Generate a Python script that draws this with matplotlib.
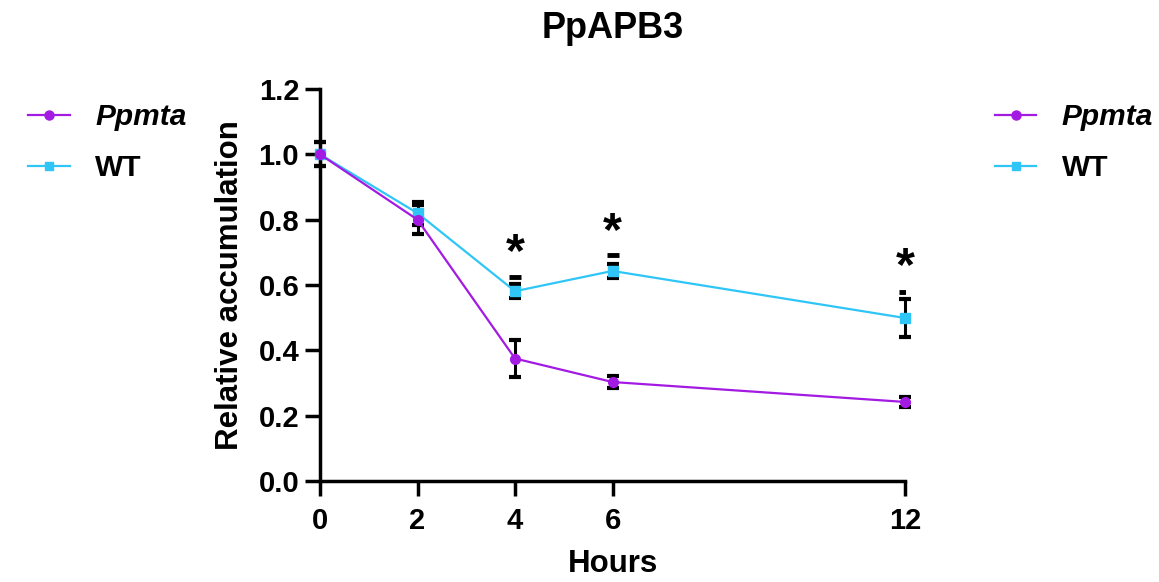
import numpy as np
import matplotlib
matplotlib.use('Agg')
import matplotlib.pyplot as plt
from matplotlib.lines import Line2D

hours = [0, 2, 4, 6, 12]

ppmta_mean = [1.0, 0.80, 0.375, 0.303, 0.242]
ppmta_err = [0.037, 0.045, 0.057, 0.019, 0.015]

wt_mean = [1.0, 0.82, 0.581, 0.643, 0.499]
wt_err = [0.037, 0.035, 0.022, 0.021, 0.057]
wt_extra_dash = [np.nan, np.nan, 0.624, 0.692, 0.580]

star_x = [4, 6, 12]
star_y = [0.695, 0.762, 0.655]

y_ticks = [0.0, 0.2, 0.4, 0.6, 0.8, 1.0, 1.2]

purple = '#A31AE3'
cyan = '#2FC6F7'

plt.rcParams['font.family'] = ['Liberation Sans', 'DejaVu Sans']
plt.rcParams['font.weight'] = 'bold'

fig = plt.figure(figsize=(11.59, 5.82), dpi=100)
ax = fig.add_axes([320 / 1159, 1 - 481 / 582, 585 / 1159, 392 / 582])

# error bars first, lines on top
ax.errorbar(hours, ppmta_mean, yerr=ppmta_err, fmt='none', ecolor='black',
            elinewidth=2.2, capsize=4.6, capthick=3, zorder=2, clip_on=False)
ax.errorbar(hours, wt_mean, yerr=wt_err, fmt='none', ecolor='black',
            elinewidth=2.2, capsize=4.6, capthick=3, zorder=2, clip_on=False)
ax.plot(hours, wt_extra_dash, linestyle='none', marker='_', markersize=9.2,
        markeredgewidth=3.5, color='black', zorder=2)

ax.plot(hours, wt_mean, color=cyan, linewidth=1.6, marker='s', markersize=6.5,
        zorder=3, clip_on=False, label='WT')
ax.plot(hours, ppmta_mean, color=purple, linewidth=1.6, marker='o', markersize=7,
        zorder=4, clip_on=False, label='Ppmta')

for sx, sy in zip(star_x, star_y):
    ax.text(sx, sy, '*', ha='center', va='center', fontsize=35, fontweight='bold')

ax.set_xlim(0, 12)
ax.set_ylim(0, 1.2)
ax.set_xticks(hours)
ax.set_yticks(y_ticks)
ax.set_yticklabels([f'{v:.1f}' for v in y_ticks])

for side in ['top', 'right']:
    ax.spines[side].set_visible(False)
for side in ['left', 'bottom']:
    ax.spines[side].set_linewidth(2.5)
ax.tick_params(axis='both', width=2.5, labelsize=21)
ax.tick_params(axis='x', length=11, pad=8)
ax.tick_params(axis='y', length=11, pad=4)
for lbl in ax.get_xticklabels() + ax.get_yticklabels():
    lbl.set_fontweight('bold')

ax.set_xlabel('Hours', fontsize=22.5, fontweight='bold', labelpad=10)
ax.set_ylabel('Relative accumulation', fontsize=22.5, fontweight='bold', labelpad=10)
ax.set_title('PpAPB3', fontsize=26, fontweight='bold', pad=37)

handles = [
    Line2D([0], [0], color=purple, linewidth=1.6, marker='o', markersize=6.5),
    Line2D([0], [0], color=cyan, linewidth=1.6, marker='s', markersize=6),
]
labels = ['Ppmta', 'WT']

for x0 in [0.001, 0.835]:
    leg = fig.legend(handles, labels, loc='upper left', bbox_to_anchor=(x0, 0.869),
                     frameon=False, fontsize=21.5, handlelength=1.4,
                     handletextpad=0.85, labelspacing=0.78)
    for t in leg.get_texts():
        t.set_fontweight('bold')
    leg.get_texts()[0].set_fontstyle('italic')

fig.savefig('out.png', dpi=100)
